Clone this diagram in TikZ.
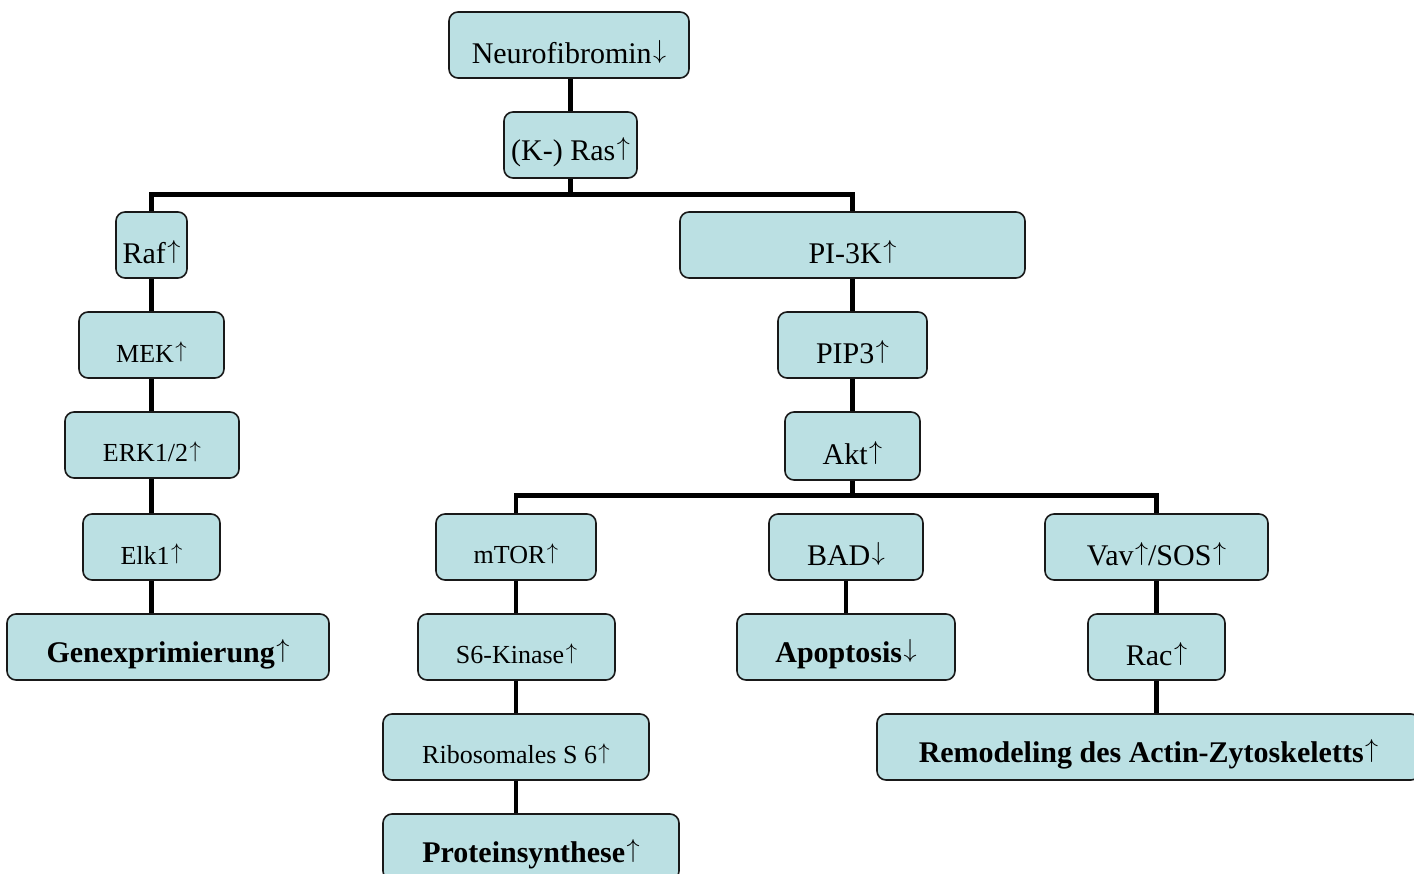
\RequirePackage{fix-cm}
\documentclass[tikz,border=0pt]{standalone}
\usepackage{fontspec}
\usepackage{graphicx}
\setmainfont{Liberation Serif}
\newcommand{\up}{\kern1.5pt\raisebox{0.17em}{\scalebox{0.87}{$\uparrow$}}}
\newcommand{\dn}{\kern1.5pt\raisebox{0.17em}{\scalebox{0.87}{$\downarrow$}}}
\begin{document}
\begin{tikzpicture}[x=1pt,y=-1pt,
  box/.style={draw=black!90, line width=1.6pt, fill=boxfill, rounded corners=9pt, inner sep=0pt},
  big/.style={font=\fontsize{30}{36}\selectfont},
  small/.style={font=\fontsize{26}{31}\selectfont},
  bigb/.style={font=\fontsize{30}{36}\selectfont\bfseries},
  wire/.style={line width=4.8pt, black},
  lbl/.style={yshift=-7pt}]
\definecolor{boxfill}{HTML}{BBE0E3}
\useasboundingbox (0,0) rectangle (1414,874);
\newcommand{\bx}[7]{% name, x1,y1,x2,y2, style, text
  \node[box, minimum width={#4-#2}, minimum height={#5-#3},
        label={[#6,lbl,name=#1t]center:#7}] (#1) at ({(#2+#4)/2},{(#3+#5)/2}) {};}
\bx{neu}{449}{12}{689}{78}{big}{Neurofibromin\dn}
\bx{ras}{504}{112}{637}{178}{big}{(K-) Ras\up}
\bx{raf}{116}{212}{187}{278}{big}{Raf\up}
\bx{pik}{680}{212}{1025}{278}{big}{PI-3K\up}
\bx{mek}{79}{312}{224}{378}{small}{MEK\up}
\bx{pip}{778}{312}{927}{378}{big}{PIP3\up}
\bx{erk}{65}{412}{239}{478}{small}{ERK1/2\up}
\bx{akt}{785}{412}{920}{480}{big}{Akt\up}
\bx{elk}{83}{514}{220}{580}{small}{Elk1\up}
\bx{mtor}{436}{514}{596}{580}{small}{mTOR\up}
\bx{bad}{769}{514}{923}{580}{big}{BAD\dn}
\bx{vav}{1045}{514}{1268}{580}{big}{Vav\up/SOS\up}
\bx{gen}{7}{614}{329}{680}{bigb}{Genexprimierung\up}
\bx{s6k}{418}{614}{615}{680}{small}{S6-Kinase\up}
\bx{apo}{737}{614}{955}{680}{bigb}{Apoptosis\dn}
\bx{rac}{1088}{614}{1225}{680}{big}{Rac\up}
\bx{rib}{383}{714}{649}{780}{small}{Ribosomales S 6\up}
\bx{rem}{877}{714}{1420}{780}{bigb}{Remodeling des Actin-Zytoskeletts\up}
\bx{pro}{383}{814}{679}{880}{bigb}{Proteinsynthese\up}
% connectors
\draw[wire] (neu.south -| ras.south) -- (ras.north);
\draw[wire] (ras.south) -- ++(0,17);
\draw[wire] (raf.north) -- ++(0,-17) -| (pik.north);
\draw[wire] (raf.south) -- (mek.north -| raf.south);
\draw[wire] (mek.south -| raf.south) -- (erk.north -| raf.south);
\draw[wire] (erk.south -| raf.south) -- (elk.north -| raf.south);
\draw[wire] (elk.south -| raf.south) -- (gen.north -| raf.south);
\draw[wire] (pik.south) -- (pip.north -| pik.south);
\draw[wire] (pip.south -| pik.south) -- (akt.north -| pik.south);
\draw[wire] (akt.south) -- ++(0,16);
\draw[wire] (mtor.north) -- ++(0,-18) -| (vav.north);
\draw[wire] (mtor.south) -- (s6k.north -| mtor.south);
\draw[wire] (s6k.south -| mtor.south) -- (rib.north -| mtor.south);
\draw[wire] (rib.south -| mtor.south) -- (pro.north -| mtor.south);
\draw[wire] (bad) -- (apo);
\draw[wire] (vav) -- (rac);
\draw[wire] (rac.south -| vav.south) -- (rem.north -| vav.south);
\end{tikzpicture}
\end{document}
